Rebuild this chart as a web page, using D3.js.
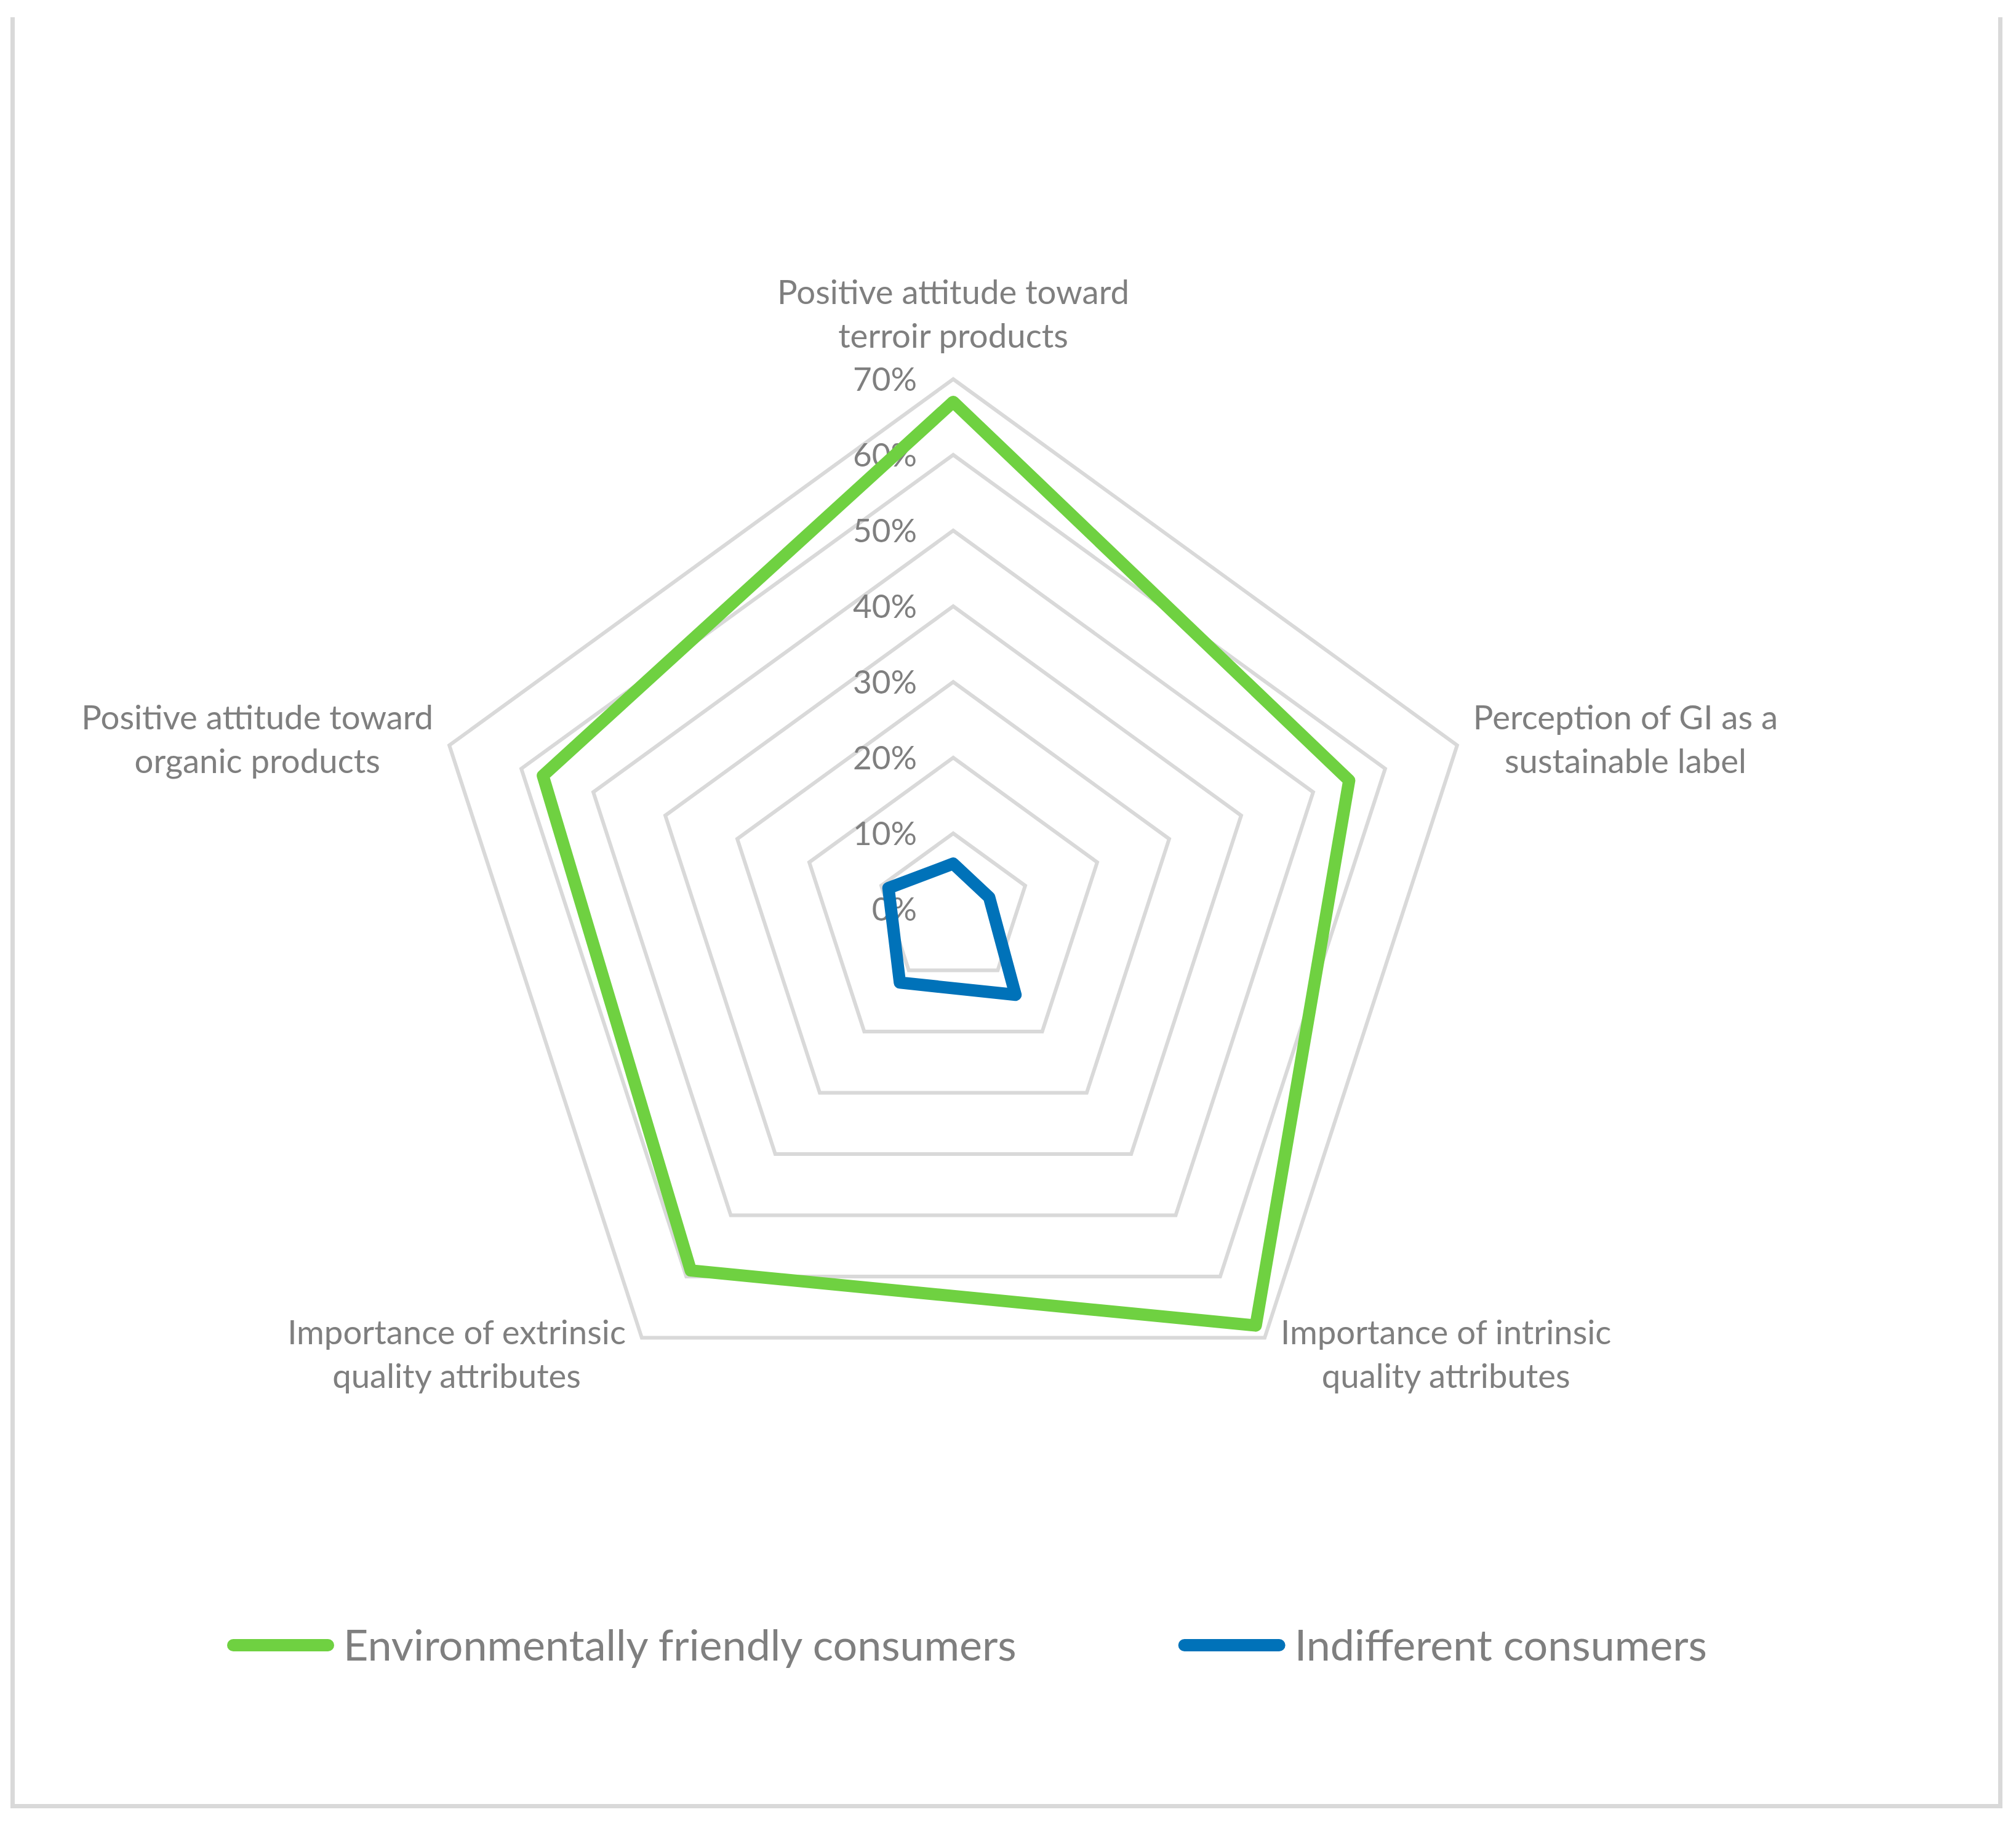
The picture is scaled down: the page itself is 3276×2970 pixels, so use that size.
<!DOCTYPE html>
<html>
<head>
<meta charset="utf-8">
<script src="https://cdn.jsdelivr.net/npm/d3@7"></script>
<style>
  body { margin: 0; background: #fff; }
  text { font-family: Lato, "Open Sans", sans-serif; fill: #7F7F7F; }
</style>
</head>
<body>
<svg id="chart" width="3276" height="2970"></svg>
<script>
// axes, clockwise from the top
const categories = [
    ["Positive attitude toward", "terroir products"],
    ["Perception of GI as a", "sustainable label"],
    ["Importance of intrinsic", "quality attributes"],
    ["Importance of extrinsic", "quality attributes"],
    ["Positive attitude toward", "organic products"]
];
const seriesNames = ["Environmentally friendly consumers", "Indifferent consumers"];
const friendlyValues = [0.67, 0.55, 0.68, 0.59, 0.57];
const indifferentValues = [0.06, 0.05, 0.14, 0.12, 0.09];
const tickValues = [0, 0.1, 0.2, 0.3, 0.4, 0.5, 0.6, 0.7];
const seriesColors = ["#6FD141", "#0072B9"];

const svg = d3.select("#chart");
const cx = 1549, cy = 1477, R = 861;
const gridColor = "#D9D9D9";

// outer chart border (top edge is cut off in the source)
svg.append("path")
    .attr("d", "M20.5,28 V2934.5 H3250.5 V28")
    .attr("fill", "none")
    .attr("stroke", gridColor)
    .attr("stroke-width", 7);

const r = d3.scaleLinear().domain([0, 0.7]).range([0, R]);
const angle = d3.scalePoint().domain(d3.range(categories.length)).range([0, 2 * Math.PI * (categories.length - 1) / categories.length]);

const g = svg.append("g").attr("transform", `translate(${cx},${cy})`);

const radial = d3.lineRadial()
    .angle((d, i) => angle(i))
    .radius(d => r(d))
    .curve(d3.curveLinearClosed);

// grid pentagons
g.append("g").selectAll("path")
    .data(tickValues.filter(t => t > 0))
    .join("path")
    .attr("d", t => radial(categories.map(() => t)))
    .attr("fill", "none")
    .attr("stroke", gridColor)
    .attr("stroke-width", 6);

// tick labels
g.append("g").selectAll("text")
    .data(tickValues)
    .join("text")
    .attr("x", -59)
    .attr("y", t => -r(t))
    .attr("dy", "0.36em")
    .attr("text-anchor", "end")
    .style("font-size", "53px")
    .text(d3.format(".0%"));

// series
const series = [friendlyValues, indifferentValues];
g.append("g").selectAll("path")
    .data(series)
    .join("path")
    .attr("d", d => radial(d))
    .attr("fill", "none")
    .attr("stroke", (d, i) => seriesColors[i])
    .attr("stroke-width", 20)
    .attr("stroke-linejoin", "round");

// category labels
const lineH = 71;
categories.forEach((lines, i) => {
    const a = angle(i);
    const sx = Math.sin(a), sy = -Math.cos(a);
    const vx = r(0.7) * sx, vy = r(0.7) * sy;
    const t = g.append("text")
        .attr("text-anchor", "middle")
        .style("font-size", "54.5px");
    lines.forEach((s, k) => t.append("tspan").attr("x", 0).attr("y", k * lineH).text(s));
    const w = t.node().getBBox().width;
    let x, yc;
    if (Math.abs(sx) < 0.01) {
        x = vx;
        yc = vy - 106;
    } else {
        x = vx + Math.sign(sx) * (26 + w / 2);
        yc = vy + 32 * sy;
    }
    const y0 = yc - lineH / 2 * (lines.length - 1);
    t.selectAll("tspan")
        .attr("x", x)
        .attr("y", (s, k) => y0 + k * lineH)
        .attr("dy", "0.36em");
});

// legend
const legend = svg.append("g").attr("transform", "translate(0,2673)");
const items = legend.selectAll("g")
    .data(seriesNames)
    .join("g");
items.append("line")
    .attr("x1", 10).attr("x2", 164)
    .attr("stroke", (d, i) => seriesColors[i])
    .attr("stroke-width", 20)
    .attr("stroke-linecap", "round");
items.append("text")
    .attr("x", 189)
    .attr("dy", "0.36em")
    .style("font-size", "70px")
    .text(d => d);
let lx = 369;
items.each(function () {
    d3.select(this).attr("transform", `translate(${lx},0)`);
    lx += 189 + this.querySelector("text").getComputedTextLength() + 263;
});
</script>
</body>
</html>
